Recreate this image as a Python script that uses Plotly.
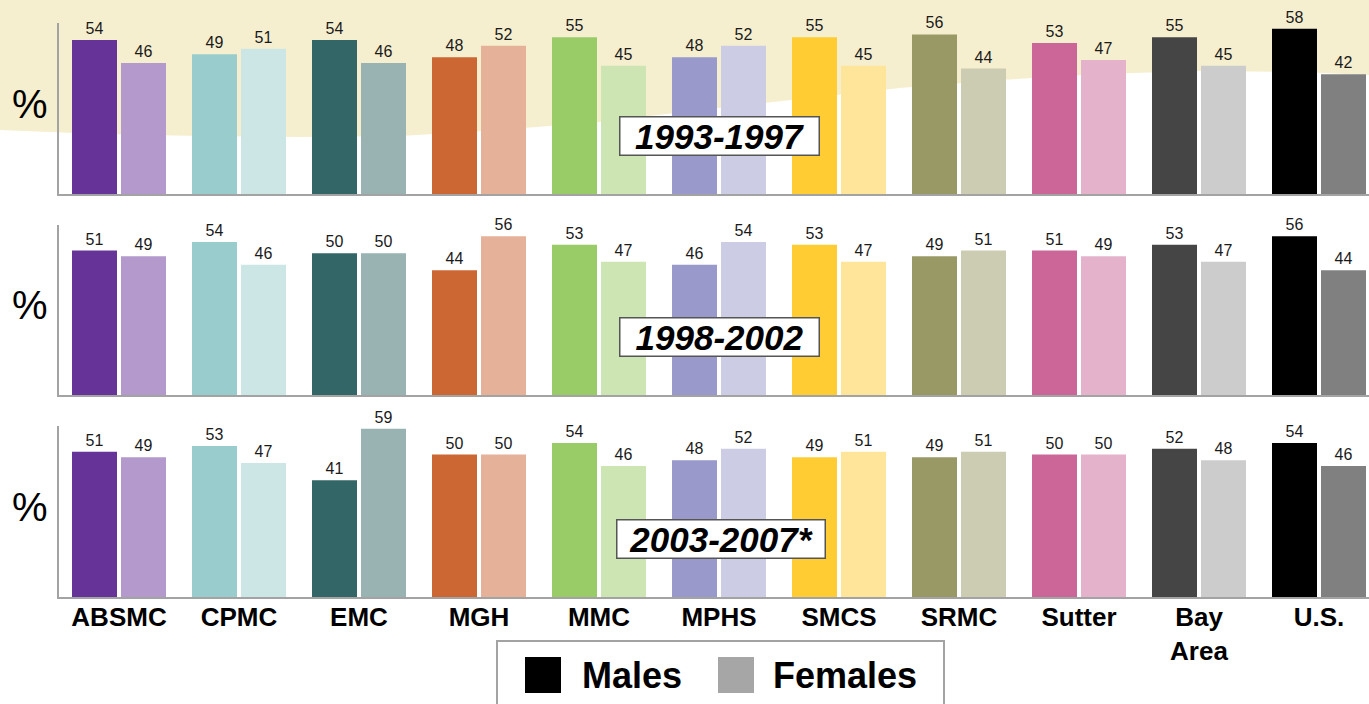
import plotly.graph_objects as go

# ---- data -------------------------------------------------------------
hospitals = ["ABSMC", "CPMC", "EMC", "MGH", "MMC", "MPHS", "SMCS",
             "SRMC", "Sutter", "Bay<br>Area", "U.S."]

periods = ["1993-1997", "1998-2002", "2003-2007*"]

males_1993 = [54, 49, 54, 48, 55, 48, 55, 56, 53, 55, 58]
females_1993 = [46, 51, 46, 52, 45, 52, 45, 44, 47, 45, 42]

males_1998 = [51, 54, 50, 44, 53, 46, 53, 49, 51, 53, 56]
females_1998 = [49, 46, 50, 56, 47, 54, 47, 51, 49, 47, 44]

males_2003 = [51, 53, 41, 50, 54, 48, 49, 49, 50, 52, 54]
females_2003 = [49, 47, 59, 50, 46, 52, 51, 51, 50, 48, 46]

# one colour pair (dark = males, light = females) per hospital
male_colors = ["#663399", "#99cccc", "#336666", "#cc6633", "#99cc66", "#9999cc",
               "#ffcc33", "#999966", "#cc6699", "#454545", "#000000"]
female_colors = ["#b399cc", "#cce5e5", "#99b2b2", "#e5b299", "#cce5b2", "#ccccE5",
                 "#ffe599", "#ccccb2", "#e5b2cc", "#cccccc", "#808080"]

# ---- layout geometry (pixels) -----------------------------------------
W, H = 1369, 704
M_L, M_R, M_T, M_B = 59, 0, 23, 107
PW, PH = W - M_L - M_R, H - M_T - M_B
FONT = "Liberation Sans, Arial, Helvetica, sans-serif"


def px_to_paper(px, py):
    return (px - M_L) / PW, (H - M_B - py) / PH


# vertical pixel extents of the three panels (top, bottom)
panel_px = [(23, 194), (225, 395), (426, 597)]
domains = [[(H - M_B - b) / PH, (H - M_B - t) / PH] for t, b in panel_px]

series = [(males_1993, females_1993), (males_1998, females_1998), (males_2003, females_2003)]

bar_w = 45 / 120
x_idx = list(range(len(hospitals)))

fig = go.Figure()
for i, (m, f) in enumerate(series):
    xa = "x" if i == 0 else f"x{i + 1}"
    ya = "y" if i == 0 else f"y{i + 1}"
    common = dict(xaxis=xa, yaxis=ya, width=bar_w, textposition="outside",
                  texttemplate="%{y}", cliponaxis=False, showlegend=False,
                  textfont=dict(family=FONT, size=16, color="#1a1a1a"),
                  hoverinfo="skip")
    fig.add_trace(go.Bar(x=x_idx, y=m, offset=-47 / 120,
                         marker=dict(color=male_colors, line=dict(width=0)), **common))
    fig.add_trace(go.Bar(x=x_idx, y=f, offset=2 / 120,
                         marker=dict(color=female_colors, line=dict(width=0)), **common))

x_range = [-0.5, -0.5 + PW / 120]
axis_line = dict(showline=True, linecolor="#a3a3a3", linewidth=2,
                 showgrid=False, zeroline=False, ticks="")

layout = dict(
    width=W, height=H,
    margin=dict(l=M_L, r=M_R, t=M_T, b=M_B, pad=0),
    paper_bgcolor="white", plot_bgcolor="rgba(0,0,0,0)",
    barmode="overlay",
    font=dict(family=FONT, color="black"),
)
for i in range(3):
    sfx = "" if i == 0 else str(i + 1)
    bottom = i == 2
    layout[f"xaxis{sfx}"] = dict(
        axis_line, range=x_range, anchor=f"y{sfx}", domain=[0, 1],
        tickvals=x_idx, ticktext=hospitals, showticklabels=bottom,
        ticklabelstandoff=-4,
        tickfont=dict(family=FONT, size=26, color="black", weight="bold"),
        **({} if i == 0 else dict(matches="x")))
    layout[f"yaxis{sfx}"] = dict(
        axis_line, range=[0, 60], anchor=f"x{sfx}", domain=domains[i],
        showticklabels=False)

fig.update_layout(**layout)

# pale yellow band behind the top panel, with a gently curving lower edge
edge_px = [(1369, 75), (1300, 72), (1200, 71), (1100, 74), (1000, 80), (900, 88),
           (800, 99), (700, 110), (600, 122), (500, 130), (400, 136), (300, 137),
           (200, 136), (100, 134), (0, 130)]
pts = [px_to_paper(0, -2), px_to_paper(1370, -2)] + [px_to_paper(x, y) for x, y in edge_px]
path = "M " + " L ".join(f"{x:.5f},{y:.5f}" for x, y in pts) + " Z"
fig.add_shape(type="path", path=path, xref="paper", yref="paper", layer="below",
              fillcolor="#f6efcf", line=dict(width=0))

# "%" axis labels
for t, b in panel_px:
    cx, cy = px_to_paper(30, (t + b) / 2 - 5)
    fig.add_annotation(x=cx, y=cy, xref="paper", yref="paper", text="%", showarrow=False,
                       font=dict(family=FONT, size=40, color="black"),
                       xanchor="center", yanchor="middle")

# period labels in boxes
box_w = [198, 198, 207]
for i, p in enumerate(periods):
    sfx = "" if i == 0 else str(i + 1)
    fig.add_annotation(x=5.0 + (0.02 if i == 2 else 0), y=20.5, xref=f"x{sfx}", yref=f"y{sfx}",
                       text=p, showarrow=False, width=box_w[i], height=37,
                       bgcolor="white", bordercolor="#555555", borderwidth=1.5, borderpad=0,
                       font=dict(family=FONT, size=35, color="black", weight="bold", style="italic"),
                       xanchor="center", yanchor="middle", align="center", valign="middle")

# legend
x0, y0 = px_to_paper(497, 641)
x1, y1 = px_to_paper(944, 712)
fig.add_shape(type="rect", xref="paper", yref="paper", x0=x0, y0=y0, x1=x1, y1=y1,
              line=dict(color="#a3a3a3", width=2), fillcolor="white")
for (sx, label, color, tx) in [(525, "Males", "#000000", 582), (718, "Females", "#a6a6a6", 773)]:
    a0, b0 = px_to_paper(sx, 657)
    a1, b1 = px_to_paper(sx + 36, 693)
    fig.add_shape(type="rect", xref="paper", yref="paper", x0=a0, y0=b0, x1=a1, y1=b1,
                  line=dict(width=0), fillcolor=color)
    lx, ly = px_to_paper(tx - 2, 675)
    fig.add_annotation(x=lx, y=ly, xref="paper", yref="paper", text=label, showarrow=False,
                       xanchor="left", yanchor="middle",
                       font=dict(family=FONT, size=36, color="black", weight="bold"))

fig.write_html("out.html")
